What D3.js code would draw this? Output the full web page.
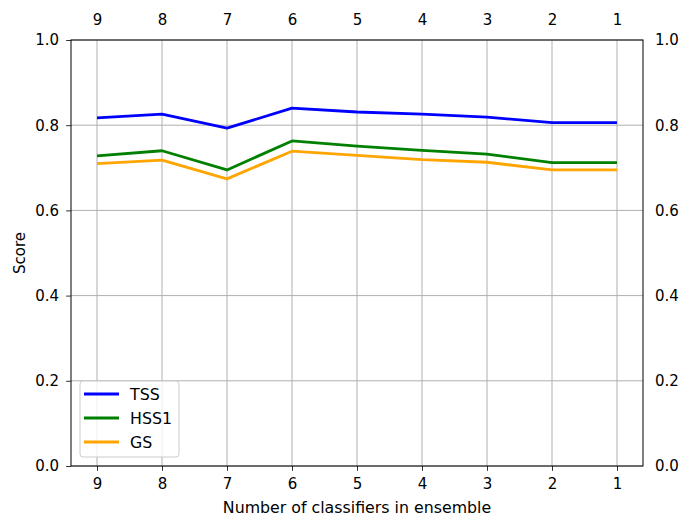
<!DOCTYPE html>
<html><head><meta charset="utf-8">
<script src="https://cdn.jsdelivr.net/npm/d3@7"></script>
<style>body{margin:0;background:#fff}svg{display:block}text{font-family:"DejaVu Sans",sans-serif;fill:#000}</style>
</head><body>
<svg id="c" width="682" height="517"></svg>
<script>
const categories = ["9","8","7","6","5","4","3","2","1"];
const tss  = [0.817,0.826,0.793,0.840,0.831,0.826,0.819,0.806,0.806];
const hss1 = [0.728,0.740,0.695,0.763,0.751,0.741,0.732,0.712,0.712];
const gs   = [0.710,0.718,0.674,0.739,0.729,0.719,0.713,0.695,0.695];
const yTicks = [0,0.2,0.4,0.6,0.8,1.0];
const seriesNames = ["TSS","HSS1","GS"];
const seriesColors = ["#0000ff","#008000","#ffa500"];

const svg = d3.select("#c");
const L=71,R=643,T=40,B=466;
const fs = "15px";
const fl = "15.8px";
const x = d3.scalePoint().domain(categories).range([L,R]).padding(0.4);
const y = d3.scaleLinear().domain([0,1]).range([B,T]);

// grid
const g = svg.append("g");
g.selectAll(".gx").data(categories).join("line")
  .attr("x1",d=>x(d)).attr("x2",d=>x(d)).attr("y1",T).attr("y2",B)
  .attr("stroke","#b0b0b0").attr("stroke-width",1);
g.selectAll(".gy").data(yTicks).join("line")
  .attr("x1",L).attr("x2",R).attr("y1",d=>y(d)).attr("y2",d=>y(d))
  .attr("stroke","#b0b0b0").attr("stroke-width",1);

// lines
const data=[tss,hss1,gs];
const line = d3.line().x((d,i)=>x(categories[i])).y(d=>y(d));
data.forEach((s,k)=>{
  svg.append("path").attr("d",line(s)).attr("fill","none")
    .attr("stroke",seriesColors[k]).attr("stroke-width",2.8).attr("stroke-linejoin","round");
});

// axes
function styleAxis(sel){
  sel.selectAll("text").style("font-size",fs).style("font-family","DejaVu Sans").style("fill","#000");
  sel.select(".domain").remove();
  sel.selectAll(".tick line").attr("stroke","#000").attr("stroke-width",0.8);
}
svg.append("g").attr("transform",`translate(0,${B})`)
  .call(d3.axisBottom(x).tickSize(4.9).tickPadding(7)).call(styleAxis);
svg.append("g").attr("transform",`translate(0,${T})`)
  .call(d3.axisTop(x).tickSize(0).tickPadding(15)).call(styleAxis);
svg.append("g").attr("transform",`translate(${L},0)`)
  .call(d3.axisLeft(y).tickValues(yTicks).tickFormat(d3.format(".1f")).tickSize(4.9).tickPadding(7)).call(styleAxis);
svg.append("g").attr("transform",`translate(${R},0)`)
  .call(d3.axisRight(y).tickValues(yTicks).tickFormat(d3.format(".1f")).tickSize(0).tickPadding(12)).call(styleAxis);

// frame
svg.append("rect").attr("x",L).attr("y",T).attr("width",R-L).attr("height",B-T)
  .attr("fill","none").attr("stroke","#000").attr("stroke-width",1);

// labels
svg.append("text").attr("x",(L+R)/2).attr("y",513).attr("text-anchor","middle")
  .style("font-size",fl).text("Number of classifiers in ensemble");
svg.append("text").attr("transform",`translate(25,${(T+B)/2}) rotate(-90)`).attr("text-anchor","middle")
  .style("font-size",fs).text("Score");

// legend
const lg = svg.append("g");
lg.append("rect").attr("x",80).attr("y",381).attr("width",99).attr("height",76).attr("rx",3)
  .attr("fill","#fff").attr("fill-opacity",0.8).attr("stroke","#cccccc").attr("stroke-width",1);
seriesNames.forEach((n,i)=>{
  const yy=394+i*24;
  lg.append("line").attr("x1",84).attr("x2",119).attr("y1",yy).attr("y2",yy)
    .attr("stroke",seriesColors[i]).attr("stroke-width",2.8);
  lg.append("text").attr("x",130).attr("y",yy).attr("dy","0.36em").style("font-size",fl).text(n);
});
</script>
</body></html>
